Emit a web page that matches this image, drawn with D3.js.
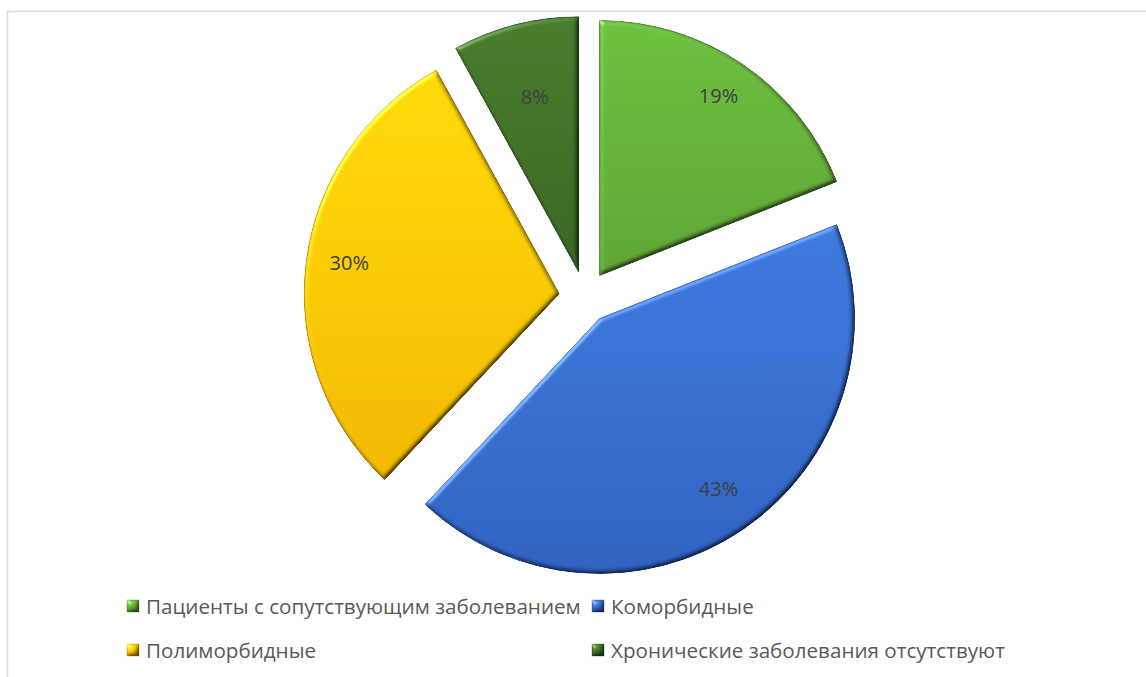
<!DOCTYPE html>
<html><head><meta charset="utf-8">
<script src="https://cdn.jsdelivr.net/npm/d3@7"></script>
<style>html,body{margin:0;padding:0;background:#fff;overflow:hidden}</style>
</head><body>
<svg id="chart" width="1146" height="677"></svg>
<script>
const categories = ["Пациенты с сопутствующим заболеванием", "Коморбидные", "Полиморбидные", "Хронические заболевания отсутствуют"];
const values = [19, 43, 30, 8];
const labels = ["19%", "43%", "30%", "8%"];
const colorsTop = ["#6cbf3e", "#3d78dc", "#ffd808", "#467a2a"];
const colorsBot = ["#5ca234", "#2f60c0", "#f0b800", "#3a6522"];
const strokes = ["#497f28", "#23489a", "#b88a00", "#2a4a18"];

const svg = d3.select("#chart");

// frame
svg.append("rect").attr("x", 7.5).attr("y", 11.5).attr("width", 1160).attr("height", 700)
  .attr("fill", "#fff").attr("stroke", "#d9d9d9").attr("stroke-width", 1.5);

const defs = svg.append("defs");
const bev = defs.append("filter").attr("id", "bevel").attr("color-interpolation-filters", "sRGB")
  .attr("x", "-5%").attr("y", "-5%").attr("width", "110%").attr("height", "110%");
bev.append("feGaussianBlur").attr("in", "SourceAlpha").attr("stdDeviation", 2.5).attr("result", "blur");
const dif = bev.append("feDiffuseLighting").attr("in", "blur").attr("surfaceScale", 3)
  .attr("diffuseConstant", 1.0 / Math.sin(Math.PI / 3)).attr("lighting-color", "#ffffff").attr("result", "diff");
dif.append("feDistantLight").attr("azimuth", 225).attr("elevation", 60);
bev.append("feComposite").attr("in", "SourceGraphic").attr("in2", "diff").attr("operator", "arithmetic")
  .attr("k1", 1).attr("k2", 0).attr("k3", 0).attr("k4", 0).attr("result", "lit");
const spec = bev.append("feSpecularLighting").attr("in", "blur").attr("surfaceScale", 3)
  .attr("specularConstant", 0.6).attr("specularExponent", 20).attr("lighting-color", "#ffffff").attr("result", "spec");
spec.append("feDistantLight").attr("azimuth", 225).attr("elevation", 25);
bev.append("feComposite").attr("in", "spec").attr("in2", "SourceAlpha").attr("operator", "in").attr("result", "specOut");
bev.append("feComposite").attr("in", "lit").attr("in2", "specOut").attr("operator", "arithmetic")
  .attr("k1", 0).attr("k2", 1).attr("k3", 0.5).attr("k4", 0).attr("result", "out");
bev.append("feComposite").attr("in", "out").attr("in2", "SourceAlpha").attr("operator", "in");

categories.forEach((c, i) => {
  const g = defs.append("linearGradient").attr("id", "grad" + i).attr("x1", 0).attr("y1", 0).attr("x2", 0).attr("y2", 1);
  g.append("stop").attr("offset", "0%").attr("stop-color", colorsTop[i]);
  g.append("stop").attr("offset", "100%").attr("stop-color", colorsBot[i]);
});

const cx = 585, cy = 297, R = 255, explode = 26;
const pie = d3.pie().sort(null).value(d => d).startAngle(0).endAngle(2 * Math.PI);
const arcs = pie(values);
const arcGen = d3.arc().innerRadius(0).outerRadius(R);

const gPie = svg.append("g").attr("transform", `translate(${cx},${cy})`);
const slice = gPie.selectAll("g.slice").data(arcs).enter().append("g").attr("class", "slice")
  .attr("transform", d => {
    const a = (d.startAngle + d.endAngle) / 2;
    return `translate(${explode * Math.sin(a)},${-explode * Math.cos(a)})`;
  });
slice.append("path").attr("d", arcGen)
  .attr("fill", (d, i) => `url(#grad${i})`)
  .attr("stroke", (d, i) => strokes[i]).attr("stroke-width", 1)
  .attr("filter", "url(#bevel)");

const labelPos = d => {
  const a = (d.startAngle + d.endAngle) / 2;
  const rr = (d.endAngle - d.startAngle) < 0.6 ? R * 0.69 : R * 0.83;
  return [rr * Math.sin(a), -rr * Math.cos(a)];
};
slice.append("text")
  .attr("x", d => labelPos(d)[0])
  .attr("y", d => labelPos(d)[1] - 5)
  .attr("text-anchor", "middle").attr("dominant-baseline", "central")
  .attr("font-family", "'Open Sans', sans-serif").attr("font-size", 20)
  .attr("fill", "#404040")
  .text((d, i) => labels[i]);

// legend
const legend = svg.append("g").attr("font-family", "'Open Sans', sans-serif").attr("fill", "#595959");
const probe = legend.append("text").attr("font-size", 20).text(categories[3]);
const fs = 20 * 394 / probe.node().getComputedTextLength();
probe.remove();
const colX = [127, 592], rowY = [606, 650];
categories.forEach((c, i) => {
  const x = colX[i % 2], y = rowY[Math.floor(i / 2)];
  legend.append("rect").attr("x", x).attr("y", y - 6).attr("width", 12).attr("height", 12)
    .attr("fill", `url(#grad${i})`).attr("stroke", strokes[i]).attr("stroke-width", 0.8)
    .attr("filter", "url(#bevel)");
  legend.append("text").attr("x", x + 19).attr("y", y).attr("dominant-baseline", "central")
    .attr("font-size", fs).text(c);
});
</script>
</body></html>
